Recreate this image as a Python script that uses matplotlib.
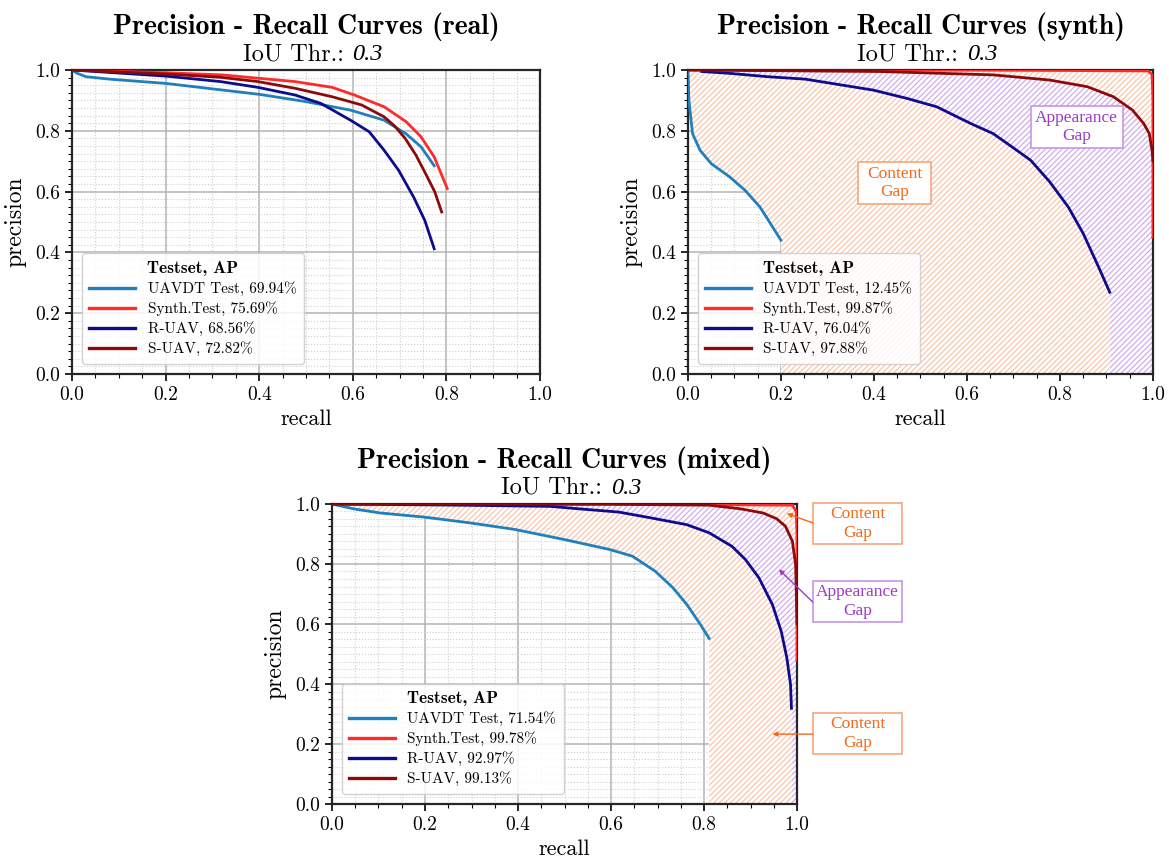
import numpy as np
import matplotlib
matplotlib.use("Agg")
import matplotlib.pyplot as plt
from matplotlib.ticker import MultipleLocator, FormatStrFormatter
from matplotlib.patches import Rectangle

plt.rcParams['font.family'] = ['cmr10']
plt.rcParams['axes.unicode_minus'] = False
plt.rcParams['axes.formatter.use_mathtext'] = True
plt.rcParams['hatch.linewidth'] = 0.9

# series names / colours
labels = ['UAVDT Test', 'Synth.Test', 'R-UAV', 'S-UAV']
colors = ['#1f7fbf', '#ff2a2a', '#0c0c8c', '#8e0a0a']

# --- real testset ---
real_ap = ['69.94%', '75.69%', '68.56%', '72.82%']
real_uavdt_r = [0, 0.01, 0.03, 0.08, 0.2, 0.4, 0.5, 0.595, 0.667, 0.714, 0.746, 0.774]
real_uavdt_p = [1.0, 0.99, 0.978, 0.97, 0.956, 0.92, 0.896, 0.868, 0.835, 0.79, 0.747, 0.685]
real_synth_r = [0, 0.2, 0.32, 0.476, 0.556, 0.603, 0.667, 0.714, 0.746, 0.774, 0.802]
real_synth_p = [1.0, 0.991, 0.984, 0.962, 0.943, 0.918, 0.879, 0.83, 0.78, 0.714, 0.61]
real_ruav_r = [0, 0.2, 0.317, 0.397, 0.476, 0.532, 0.595, 0.635, 0.667, 0.698, 0.73, 0.754, 0.774]
real_ruav_p = [1.0, 0.98, 0.962, 0.943, 0.918, 0.89, 0.835, 0.797, 0.736, 0.67, 0.582, 0.505, 0.412]
real_suav_r = [0, 0.2, 0.317, 0.397, 0.476, 0.556, 0.619, 0.667, 0.69, 0.712, 0.735, 0.757, 0.775, 0.79]
real_suav_p = [1.0, 0.987, 0.976, 0.962, 0.94, 0.912, 0.885, 0.846, 0.815, 0.775, 0.72, 0.655, 0.6, 0.533]

# --- synth testset ---
syn_ap = ['12.45%', '99.87%', '76.04%', '97.88%']
syn_uavdt_r = [0, 0.002, 0.01, 0.026, 0.05, 0.09, 0.123, 0.155, 0.2]
syn_uavdt_p = [1.0, 0.9, 0.79, 0.736, 0.692, 0.648, 0.604, 0.549, 0.44]
syn_synth_r = [0, 0.6, 0.99, 0.998, 1.0, 1.0]
syn_synth_p = [1.0, 1.0, 0.997, 0.985, 0.9, 0.45]
syn_ruav_r = [0.03, 0.09, 0.171, 0.252, 0.333, 0.398, 0.47, 0.535, 0.608, 0.656, 0.697,
              0.737, 0.778, 0.818, 0.85, 0.883, 0.907]
syn_ruav_p = [0.995, 0.989, 0.978, 0.97, 0.95, 0.934, 0.907, 0.879, 0.824, 0.791, 0.747,
              0.703, 0.632, 0.549, 0.462, 0.352, 0.269]
syn_suav_r = [0, 0.414, 0.656, 0.778, 0.859, 0.915, 0.956, 0.98, 0.992, 0.998, 1.0]
syn_suav_p = [1.0, 0.995, 0.984, 0.967, 0.945, 0.912, 0.868, 0.824, 0.791, 0.736, 0.7]

# --- mixed testset ---
mix_ap = ['71.54%', '99.78%', '92.97%', '99.13%']
mix_uavdt_r = [0, 0.046, 0.104, 0.2, 0.297, 0.394, 0.501, 0.598, 0.646, 0.695, 0.733, 0.763, 0.792, 0.811]
mix_uavdt_p = [1.0, 0.984, 0.97, 0.956, 0.937, 0.915, 0.881, 0.848, 0.826, 0.776, 0.721, 0.665, 0.599, 0.552]
mix_synth_r = [0, 0.6, 0.99, 0.998, 1.0, 1.0]
mix_synth_p = [1.0, 1.0, 0.996, 0.976, 0.9, 0.479]
mix_ruav_r = [0, 0.278, 0.47, 0.53, 0.617, 0.695, 0.763, 0.811, 0.86, 0.889, 0.918, 0.947,
              0.966, 0.978, 0.986, 0.988]
mix_ruav_p = [1.0, 0.996, 0.992, 0.984, 0.973, 0.951, 0.931, 0.904, 0.859, 0.815, 0.754, 0.665,
              0.576, 0.488, 0.399, 0.319]
mix_suav_r = [0, 0.6, 0.811, 0.878, 0.927, 0.956, 0.975, 0.99, 0.997, 1.0]
mix_suav_p = [1.0, 0.999, 0.996, 0.984, 0.97, 0.951, 0.926, 0.876, 0.798, 0.6]

ORANGE_HATCH = '#fac5aa'
PURPLE_HATCH = '#d0acec'
ORANGE_TXT = '#f26a1c'
ORANGE_BOX = '#f5a77c'
PURPLE_TXT = '#9a3cc8'
PURPLE_BOX = '#c894e6'


def style_axes(ax, name, h_px):
    ax.set_xlim(0, 1)
    ax.set_ylim(0, 1)
    ax.xaxis.set_major_locator(MultipleLocator(0.2))
    ax.yaxis.set_major_locator(MultipleLocator(0.2))
    ax.xaxis.set_minor_locator(MultipleLocator(0.05))
    ax.yaxis.set_minor_locator(MultipleLocator(0.025))
    ax.xaxis.set_major_formatter(FormatStrFormatter('%.1f'))
    ax.yaxis.set_major_formatter(FormatStrFormatter('%.1f'))
    ax.grid(which='major', color='#b4b4b4', linewidth=1.1)
    ax.grid(which='minor', color='#cfcfcf', linewidth=0.8, linestyle=':')
    ax.tick_params(which='major', labelsize=14, length=5, width=1.2)
    ax.tick_params(which='minor', length=3, width=0.8)
    for s in ax.spines.values():
        s.set_linewidth(1.6)
        s.set_color('#262626')
    ax.set_xlabel('recall', fontsize=16, labelpad=4)
    ax.set_ylabel('precision', fontsize=17, labelpad=6)
    # subtitle: upright label + italic value
    y_sub = 1 + 10.0 / h_px
    t1 = ax.text(0.5 + 38.0 / 468, y_sub, 'IoU Thr.:', transform=ax.transAxes,
                 ha='right', va='baseline', fontsize=17.5)
    ax.annotate('0.3', xy=(1, 0), xycoords=t1, xytext=(6, 0), textcoords='offset points',
                ha='left', va='bottom', fontsize=17.5, family='Liberation Serif', style='italic')
    ax.text(0.5, 1 + 36.0 / h_px, 'Precision - Recall Curves (%s)' % name, transform=ax.transAxes,
            ha='center', va='baseline', fontsize=20, family='cmb10')


def draw_curves(ax, curves, ap):
    for (r, p), lab, c, a in zip(curves, labels, colors, ap):
        ax.plot(r, p, color=c, lw=2.0, label='%s, %s' % (lab, a), zorder=3)
    leg = ax.legend(loc='lower left', bbox_to_anchor=(0.021, 0.033), borderaxespad=0,
                    fontsize=11, title='Testset, AP', handlelength=3.0, handletextpad=0.8,
                    labelspacing=0.35, borderpad=0.5,
                    title_fontproperties={'family': 'cmb10', 'size': 12.5},
                    edgecolor='#cccccc', framealpha=0.85, fancybox=True)
    for line in leg.get_lines():
        line.set_linewidth(2.4)
    leg.set_zorder(6)


def gap(ax, upper_r, upper_p, lower_r, lower_p, color):
    # region between two curves, lower boundary dropped to zero past its last point
    xs = list(upper_r) + [upper_r[-1]] + [lower_r[-1]] + list(lower_r[::-1])
    ys = list(upper_p) + [0] + [0] + list(lower_p[::-1])
    ax.fill(xs, ys, facecolor='white', edgecolor=color, hatch='//////', lw=0, zorder=2)


def box(ax, x0, x1, y0, y1, text, tc, ec):
    ax.add_patch(Rectangle((x0, y0), x1 - x0, y1 - y0, facecolor='white', edgecolor=ec,
                           lw=1.2, zorder=7, clip_on=False))
    ax.text((x0 + x1) / 2, (y0 + y1) / 2, text, ha='center', va='center', color=tc,
            fontsize=12.5, family='Liberation Serif', zorder=8, linespacing=1.2)


fig = plt.figure(figsize=(11.69, 8.58), dpi=100)
ax1 = fig.add_axes([0.0616, 0.5641, 0.4003, 0.3543])
ax2 = fig.add_axes([0.5885, 0.5641, 0.3978, 0.3543])
ax3 = fig.add_axes([0.2840, 0.0629, 0.3978, 0.3497])

# real
style_axes(ax1, 'real', 304)
draw_curves(ax1, [(real_uavdt_r, real_uavdt_p), (real_synth_r, real_synth_p),
                  (real_ruav_r, real_ruav_p), (real_suav_r, real_suav_p)], real_ap)

# synth
style_axes(ax2, 'synth', 304)
gap(ax2, syn_ruav_r, syn_ruav_p, syn_uavdt_r, syn_uavdt_p, ORANGE_HATCH)
gap(ax2, syn_suav_r, syn_suav_p, syn_ruav_r, syn_ruav_p, PURPLE_HATCH)
gap(ax2, syn_synth_r, syn_synth_p, syn_suav_r, syn_suav_p, ORANGE_HATCH)
draw_curves(ax2, [(syn_uavdt_r, syn_uavdt_p), (syn_synth_r, syn_synth_p),
                  (syn_ruav_r, syn_ruav_p), (syn_suav_r, syn_suav_p)], syn_ap)
box(ax2, 0.365, 0.523, 0.56, 0.698, 'Content\nGap', ORANGE_TXT, ORANGE_BOX)
box(ax2, 0.737, 0.935, 0.744, 0.881, 'Appearance\nGap', PURPLE_TXT, PURPLE_BOX)

# mixed
style_axes(ax3, 'mixed', 300)
gap(ax3, mix_ruav_r, mix_ruav_p, mix_uavdt_r, mix_uavdt_p, ORANGE_HATCH)
gap(ax3, mix_suav_r, mix_suav_p, mix_ruav_r, mix_ruav_p, PURPLE_HATCH)
gap(ax3, mix_synth_r, mix_synth_p, mix_suav_r, mix_suav_p, ORANGE_HATCH)
draw_curves(ax3, [(mix_uavdt_r, mix_uavdt_p), (mix_synth_r, mix_synth_p),
                  (mix_ruav_r, mix_ruav_p), (mix_suav_r, mix_suav_p)], mix_ap)
box(ax3, 1.034, 1.226, 0.867, 1.003, 'Content\nGap', ORANGE_TXT, ORANGE_BOX)
box(ax3, 1.034, 1.226, 0.607, 0.743, 'Appearance\nGap', PURPLE_TXT, PURPLE_BOX)
box(ax3, 1.034, 1.226, 0.167, 0.303, 'Content\nGap', ORANGE_TXT, ORANGE_BOX)
for (xs, ys), (xh, yh), c in [((1.034, 0.937), (0.978, 0.968), ORANGE_TXT),
                               ((1.034, 0.673), (0.961, 0.782), PURPLE_TXT),
                               ((1.034, 0.233), (0.947, 0.233), ORANGE_TXT)]:
    ax3.annotate('', xy=(xh, yh), xytext=(xs, ys), annotation_clip=False, zorder=8,
                 arrowprops=dict(arrowstyle='-|>', color=c, lw=1.0, mutation_scale=7,
                                 shrinkA=0, shrinkB=0))

fig.savefig('out.png', dpi=100)
